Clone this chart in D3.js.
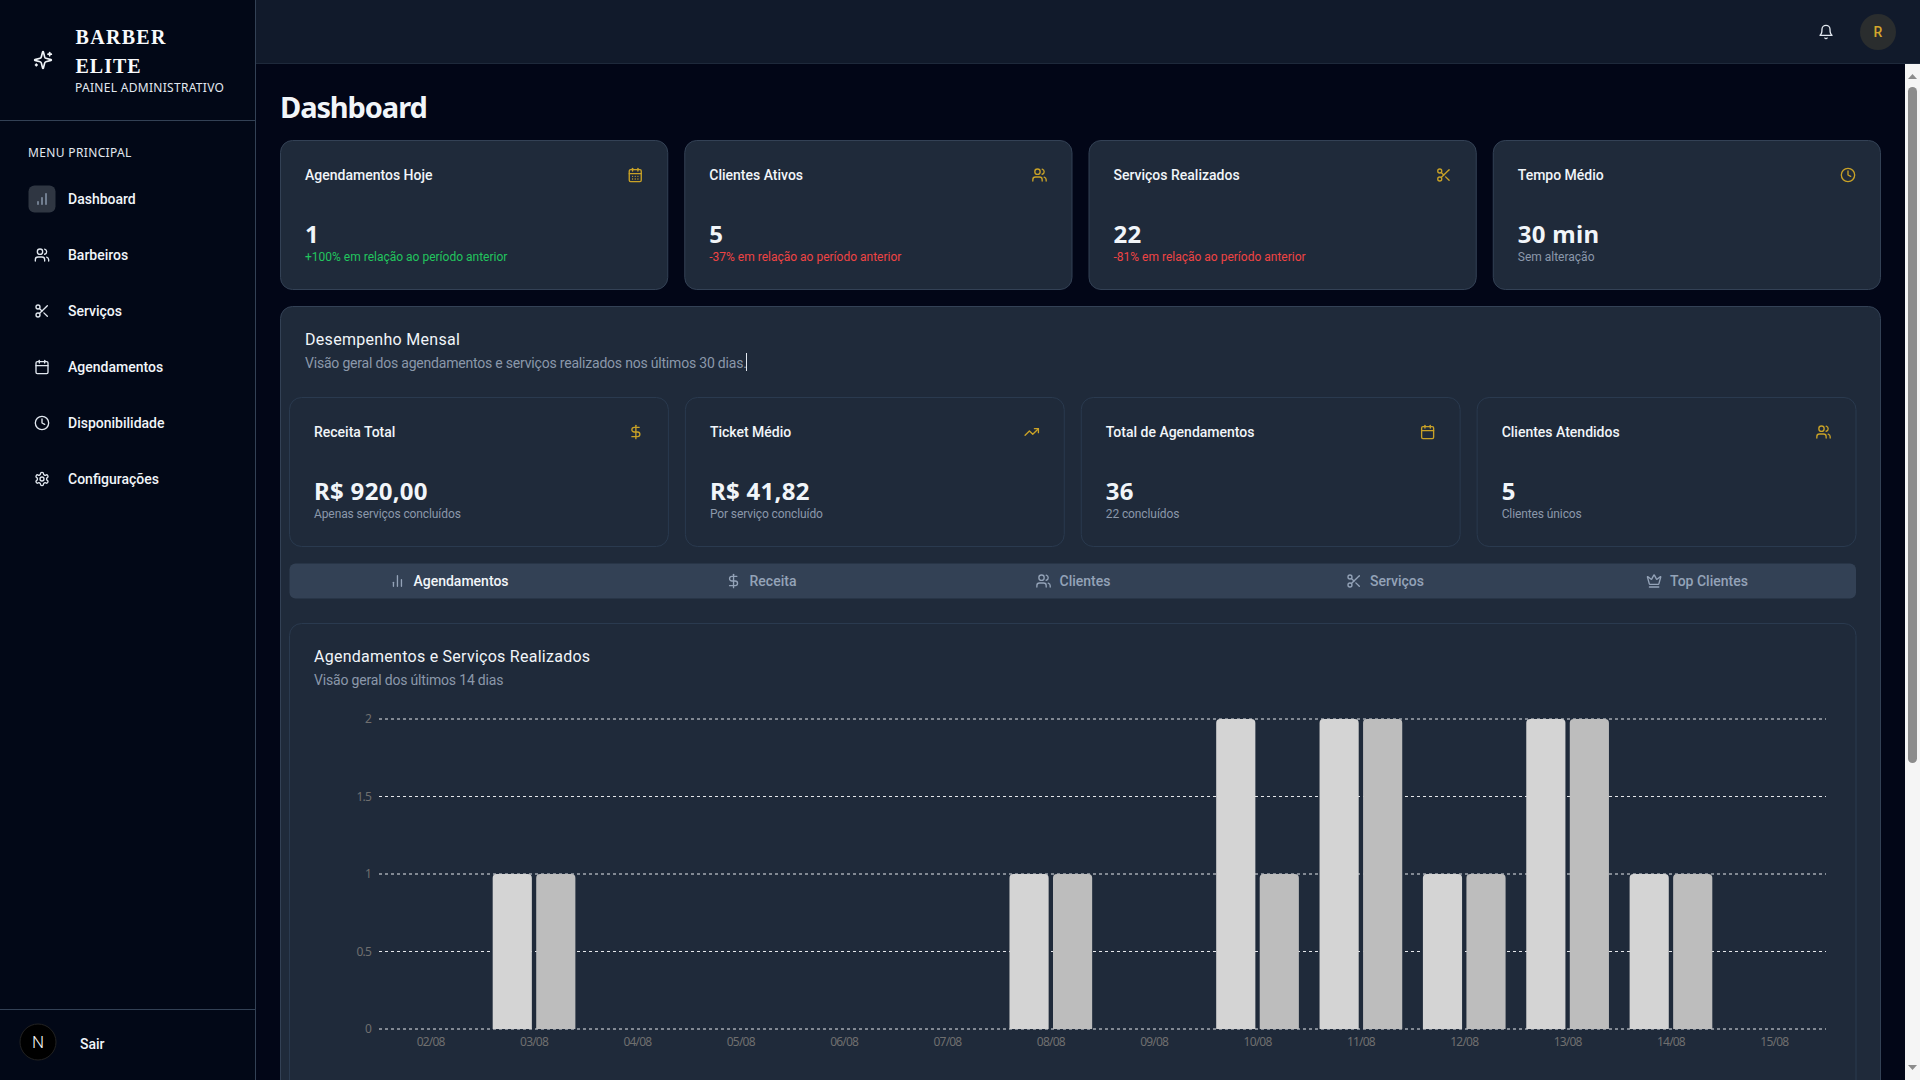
<!DOCTYPE html>
<html>
<head>
<meta charset="utf-8">
<title>Dashboard</title>
<script src="https://cdn.jsdelivr.net/npm/d3@7"></script>
<style>
    html, body { margin: 0; padding: 0; width: 1920px; height: 1080px; overflow: hidden; background: #020617; }
    svg { display: block; font-family: Roboto, sans-serif; }
    .icon { fill: none; stroke-linecap: round; stroke-linejoin: round; stroke-width: 2; }
    .grid line { stroke: #e5e7eb; stroke-dasharray: 3 3; }
    .axis path, .axis line { display: none; }
    .axis text { font-family: "Noto Sans", sans-serif; font-size: 12px; fill: #6f6f6f; letter-spacing: -0.8px; }
</style>
</head>
<body>
<div id="page"></div>
<script>
// chart data
var dates = ['02/08', '03/08', '04/08', '05/08', '06/08', '07/08', '08/08', '09/08', '10/08', '11/08', '12/08', '13/08', '14/08', '15/08'];
var agendamentos = [0, 1, 0, 0, 0, 0, 1, 0, 2, 2, 1, 2, 1, 0];
var servicos = [0, 1, 0, 0, 0, 0, 1, 0, 1, 2, 1, 2, 1, 0];
var yTicks = [0, 0.5, 1, 1.5, 2];

// dashboard texts
var menuLabels = ['Dashboard', 'Barbeiros', 'Serviços', 'Agendamentos', 'Disponibilidade', 'Configurações'];
var menuIcons = ['barsUp', 'users', 'scissors', 'calendar', 'clock', 'settings'];
var topTitles = ['Agendamentos Hoje', 'Clientes Ativos', 'Serviços Realizados', 'Tempo Médio'];
var topValues = ['1', '5', '22', '30 min'];
var topNotes = ['+100% em relação ao período anterior', '-37% em relação ao período anterior', '-81% em relação ao período anterior', 'Sem alteração'];
var topNoteKinds = ['up', 'down', 'down', 'flat'];
var topIcons = ['calendarDays', 'users', 'scissors', 'clock'];
var innerTitles = ['Receita Total', 'Ticket Médio', 'Total de Agendamentos', 'Clientes Atendidos'];
var innerValues = ['R$ 920,00', 'R$ 41,82', '36', '5'];
var innerNotes = ['Apenas serviços concluídos', 'Por serviço concluído', '22 concluídos', 'Clientes únicos'];
var innerIcons = ['dollar', 'trending', 'calendar', 'users'];
var tabLabels = ['Agendamentos', 'Receita', 'Clientes', 'Serviços', 'Top Clientes'];
var tabIcons = ['bars', 'dollar', 'users', 'scissors', 'crown'];

var muted = '#8b98aa';
var noteColors = { up: '#22c55e', down: '#ef4444', flat: muted };
var gold = '#c9a227';
var cardFill = '#1f2a3a';
var noto = '"Noto Sans", sans-serif';
var serif = '"Liberation Serif", serif';

var iconPaths = {
    bars: ['M18 20V10', 'M12 20V4', 'M6 20v-6'],
    barsUp: ['M12 20V10', 'M18 20V4', 'M6 20v-4'],
    users: ['M16 21v-2a4 4 0 0 0-4-4H6a4 4 0 0 0-4 4v2', 'M9 3a4 4 0 1 0 0 8a4 4 0 1 0 0-8z', 'M22 21v-2a4 4 0 0 0-3-3.87', 'M16 3.13a4 4 0 0 1 0 7.75'],
    scissors: ['M6 3a3 3 0 1 0 0 6a3 3 0 1 0 0-6z', 'M8.12 8.12 12 12', 'M20 4 8.12 15.88', 'M6 15a3 3 0 1 0 0 6a3 3 0 1 0 0-6z', 'M14.8 14.8 20 20'],
    calendar: ['M8 2v4', 'M16 2v4', 'M5 4h14a2 2 0 0 1 2 2v14a2 2 0 0 1-2 2H5a2 2 0 0 1-2-2V6a2 2 0 0 1 2-2z', 'M3 10h18'],
    calendarDays: ['M8 2v4', 'M16 2v4', 'M5 4h14a2 2 0 0 1 2 2v14a2 2 0 0 1-2 2H5a2 2 0 0 1-2-2V6a2 2 0 0 1 2-2z', 'M3 10h18', 'M8 14h.01', 'M12 14h.01', 'M16 14h.01', 'M8 18h.01', 'M12 18h.01', 'M16 18h.01'],
    clock: ['M12 2a10 10 0 1 0 0 20a10 10 0 1 0 0-20z', 'M12 6v6l4 2'],
    settings: ['M12.22 2h-.44a2 2 0 0 0-2 2v.18a2 2 0 0 1-1 1.73l-.43.25a2 2 0 0 1-2 0l-.15-.08a2 2 0 0 0-2.73.73l-.22.38a2 2 0 0 0 .73 2.73l.15.1a2 2 0 0 1 1 1.72v.51a2 2 0 0 1-1 1.74l-.15.09a2 2 0 0 0-.73 2.73l.22.38a2 2 0 0 0 2.73.73l.15-.08a2 2 0 0 1 2 0l.43.25a2 2 0 0 1 1 1.73V20a2 2 0 0 0 2 2h.44a2 2 0 0 0 2-2v-.18a2 2 0 0 1 1-1.73l.43-.25a2 2 0 0 1 2 0l.15.08a2 2 0 0 0 2.73-.73l.22-.39a2 2 0 0 0-.73-2.73l-.15-.08a2 2 0 0 1-1-1.74v-.5a2 2 0 0 1 1-1.74l.15-.09a2 2 0 0 0 .73-2.73l-.22-.38a2 2 0 0 0-2.73-.73l-.15.08a2 2 0 0 1-2 0l-.43-.25a2 2 0 0 1-1-1.73V4a2 2 0 0 0-2-2z', 'M12 9a3 3 0 1 0 0 6a3 3 0 1 0 0-6z'],
    dollar: ['M12 2v20', 'M17 5H9.5a3.5 3.5 0 0 0 0 7h5a3.5 3.5 0 0 1 0 7H6'],
    trending: ['M22 7 13.5 15.5 8.5 10.5 2 17', 'M16 7h6v6'],
    bell: ['M6 8a6 6 0 0 1 12 0c0 7 3 9 3 9H3s3-2 3-9', 'M10.3 21a1.94 1.94 0 0 0 3.4 0'],
    crown: ['M11.562 3.266a.5.5 0 0 1 .876 0L15.39 8.87a1 1 0 0 0 1.516.294L21.183 5.5a.5.5 0 0 1 .798.519l-2.834 10.246a1 1 0 0 1-.956.734H5.81a1 1 0 0 1-.957-.734L2.02 6.02a.5.5 0 0 1 .798-.519l4.276 3.664a1 1 0 0 0 1.516-.294z', 'M5 21h14'],
    sparkles: ['M9.937 15.5A2 2 0 0 0 8.5 14.063l-6.135-1.582a.5.5 0 0 1 0-.962L8.5 9.936A2 2 0 0 0 9.937 8.5l1.582-6.135a.5.5 0 0 1 .963 0L14.063 8.5A2 2 0 0 0 15.5 9.937l6.135 1.581a.5.5 0 0 1 0 .964L15.5 14.063a2 2 0 0 0-1.437 1.437l-1.582 6.135a.5.5 0 0 1-.963 0z', 'M20 3v4', 'M22 5h-4', 'M4 17v2', 'M5 18H3']
};

var svg = d3.select('#page').append('svg').attr('width', 1920).attr('height', 1080);

function box(x, y, w, h, r, fill, stroke) {
    return svg.append('rect')
        .attr('x', x + 0.5).attr('y', y + 0.5)
        .attr('width', w - 1).attr('height', h - 1)
        .attr('rx', r)
        .attr('fill', fill)
        .attr('stroke', stroke || 'none');
}

function label(x, y, str, size, color, weight, spacing, anchor) {
    return svg.append('text')
        .attr('x', x).attr('y', y)
        .attr('fill', color)
        .attr('text-anchor', anchor || 'start')
        .style('font-size', size + 'px')
        .style('font-weight', weight || 400)
        .style('letter-spacing', spacing || null)
        .text(str);
}

function icon(name, cx, cy, size, color) {
    var g = svg.append('g')
        .attr('class', 'icon')
        .attr('stroke', color)
        .attr('transform', 'translate(' + (cx - size / 2) + ',' + (cy - size / 2) + ') scale(' + size / 24 + ')');
    g.selectAll('path').data(iconPaths[name]).enter().append('path').attr('d', d => d);
}

// page shell
svg.append('rect').attr('width', 1920).attr('height', 1080).attr('fill', '#020617');
svg.append('rect').attr('x', 256).attr('width', 1664).attr('height', 64).attr('fill', '#111a2b');
svg.append('rect').attr('x', 256).attr('y', 63).attr('width', 1664).attr('height', 1).attr('fill', '#1e293b');
svg.append('rect').attr('width', 256).attr('height', 1080).attr('fill', '#020817');
svg.append('rect').attr('x', 255).attr('width', 1).attr('height', 1080).attr('fill', '#334155');
svg.append('rect').attr('y', 120).attr('width', 255).attr('height', 1).attr('fill', '#334155');
svg.append('rect').attr('y', 1009).attr('width', 255).attr('height', 1).attr('fill', '#334155');

// sidebar
icon('sparkles', 43, 60, 20, '#f1f5f9');
label(75.5, 44, 'BARBER', 20, '#f8fafc', 700, '1.3px').style('font-family', serif);
label(75.5, 72.5, 'ELITE', 20, '#f8fafc', 700, '1px').style('font-family', serif);
label(75, 92, 'PAINEL ADMINISTRATIVO', 12, '#e2e8f0', 400, '0.3px').style('font-family', noto);
label(28, 157, 'MENU PRINCIPAL', 12, '#e2e8f0', 400, '0.35px').style('font-family', noto);
box(28, 185, 28, 28, 6, '#2f3642');
menuLabels.forEach(function(d, i) {
    var cy = 199 + i * 56;
    icon(menuIcons[i], 42, cy, 16, i == 0 ? '#94a3b8' : '#e2e8f0');
    label(68, cy + 5, d, 14, '#f1f5f9', 500);
});
svg.append('circle').attr('cx', 38).attr('cy', 1042).attr('r', 18).attr('fill', '#000').attr('stroke', '#222');
label(38, 1048, 'N', 17, '#f5f5f5', 300, null, 'middle');
label(80, 1049, 'Sair', 14, '#f1f5f9', 500);

// top bar
icon('bell', 1826, 32, 16, '#e2e8f0');
svg.append('circle').attr('cx', 1878).attr('cy', 32).attr('r', 18).attr('fill', '#2a2d2e');
label(1878, 37, 'R', 14, '#d4a72c', 500, null, 'middle');
label(280, 118, 'Dashboard', 29, '#f1f5f9', 700, '-1.1px').style('font-family', noto);

// top cards
var topX = d3.scaleBand().domain(d3.range(4)).range([280, 1881]).paddingInner(16 / 404.25);
topTitles.forEach(function(d, i) {
    var x = topX(i);
    box(x, 140, topX.bandwidth(), 150, 12, cardFill, '#334155');
    label(x + 25, 180, d, 14, '#f1f5f9', 500);
    icon(topIcons[i], x + topX.bandwidth() - 33, 175, 16, gold);
    label(x + 25, 243, topValues[i], 24, '#f1f5f9', 700, '0.3px').style('font-family', noto);
    label(x + 25, 261, topNotes[i], 12, noteColors[topNoteKinds[i]], 400);
});

// big panel, runs past the bottom of the window
box(280, 306, 1601, 900, 12, cardFill, '#334155');
label(305, 345, 'Desempenho Mensal', 16, '#f1f5f9', 400, '0.3px');
label(305, 368, 'Visão geral dos agendamentos e serviços realizados nos últimos 30 dias.', 14, muted, 400, '-0.2px');
svg.append('rect').attr('x', 746).attr('y', 353).attr('width', 1).attr('height', 18).attr('fill', '#e2e8f0');

var innerX = d3.scaleBand().domain(d3.range(4)).range([289, 1856.5]).paddingInner(16 / 395.875);
innerTitles.forEach(function(d, i) {
    var x = innerX(i);
    box(x, 397, innerX.bandwidth(), 150, 12, cardFill, '#2a3a4f');
    label(x + 25, 437, d, 14, '#f1f5f9', 500);
    icon(innerIcons[i], x + innerX.bandwidth() - 33, 432, 16, gold);
    label(x + 25, 500, innerValues[i], 24, '#f1f5f9', 700, '0.3px').style('font-family', noto);
    label(x + 25, 518, innerNotes[i], 12, muted, 400, '-0.1px');
});

// tabs
box(289, 563, 1567.5, 36, 6, '#334155');
var tabX = d3.scaleBand().domain(d3.range(5)).range([293, 1853]);
tabLabels.forEach(function(d, i) {
    var cx = tabX(i) + tabX.bandwidth() / 2;
    var color = i == 0 ? '#f1f5f9' : '#94a3b8';
    var t = label(cx + 12, 586, d, 14, color, 500, null, 'middle');
    var w = t.node().getComputedTextLength();
    icon(tabIcons[i], cx + 12 - w / 2 - 16, 581, 16, '#94a3b8');
});

// chart card
box(289, 623, 1567.5, 600, 12, cardFill, '#2a3a4f');
label(314, 662, 'Agendamentos e Serviços Realizados', 16, '#f1f5f9', 400, '0.26px');
label(314, 685, 'Visão geral dos últimos 14 dias', 14, muted, 400, '-0.18px');

var x0 = d3.scaleBand().domain(dates).range([379, 1826]);
var pad = x0.step() * 0.1;
var x1 = d3.scaleBand().domain([0, 1]).range([pad, x0.step() - pad]).paddingInner(0.1);
var y = d3.scaleLinear().domain([0, 2]).range([1029, 719]);

svg.append('g').attr('class', 'grid')
    .selectAll('line').data(yTicks).enter().append('line')
    .attr('x1', 379).attr('x2', 1826)
    .attr('y1', d => y(d)).attr('y2', d => y(d));

svg.append('g').attr('class', 'axis')
    .attr('transform', 'translate(379,0)')
    .call(d3.axisLeft(y).tickValues(yTicks).tickFormat(d => String(d)).tickSize(0).tickPadding(8));

svg.append('g').attr('class', 'axis')
    .attr('transform', 'translate(0,1029)')
    .call(d3.axisBottom(x0).tickSize(0).tickPadding(8));

function topRounded(x, yTop, w, h, r) {
    return 'M' + x + ',' + (yTop + h) + 'V' + (yTop + r) + 'A' + r + ',' + r + ' 0 0 1 ' + (x + r) + ',' + yTop +
        'H' + (x + w - r) + 'A' + r + ',' + r + ' 0 0 1 ' + (x + w) + ',' + (yTop + r) + 'V' + (yTop + h) + 'Z';
}

function drawSeries(values, idx, color) {
    svg.append('g').selectAll('path')
        .data(values.map((v, i) => ({ date: dates[i], v: v })).filter(d => d.v > 0))
        .enter().append('path')
        .attr('fill', color)
        .attr('d', d => topRounded(x0(d.date) + x1(idx), y(d.v), x1.bandwidth(), y(0) - y(d.v), 4));
}
drawSeries(agendamentos, 0, '#d4d4d4');
drawSeries(servicos, 1, '#bdbdbd');

// scrollbar
svg.append('rect').attr('x', 1905).attr('y', 64).attr('width', 15).attr('height', 1016).attr('fill', '#f5f5f5');
svg.append('rect').attr('x', 1908).attr('y', 87).attr('width', 9).attr('height', 676).attr('rx', 4.5).attr('fill', '#8c8c8c');
svg.append('path').attr('d', 'M1912.5,74l4.5,5h-9z').attr('fill', '#8c8c8c');
svg.append('path').attr('d', 'M1912.5,1070l4.5,-5h-9z').attr('fill', '#8c8c8c');
</script>
</body>
</html>
